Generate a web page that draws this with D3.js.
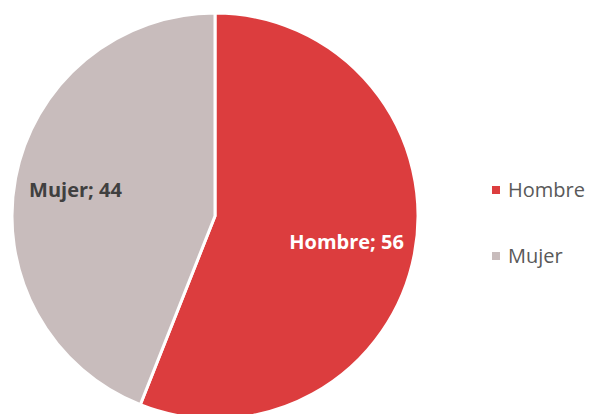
<!doctype html>
<html>
<head>
  <meta charset="utf-8">
  <script src="https://d3js.org/d3.v7.min.js"></script>
  <style>
    body { margin: 0; background: #fff; }
    text { font-family: "Open Sans", "DejaVu Sans", sans-serif; }
  </style>
</head>
<body>
<script>
  var categories = ["Hombre", "Mujer"];
  var values = [56, 44];
  var colors = ["#DC3D3E", "#C8BCBC"];
  var labelColors = ["#ffffff", "#404040"];

  var width = 591, height = 414;
  var r = 203;

  var svg = d3.select("body").append("svg")
      .attr("width", width)
      .attr("height", height);

  var g = svg.append("g")
      .attr("transform", "translate(215,216)");

  var pie = d3.pie().sort(null).value(function (d) { return d; });
  var arc = d3.arc().innerRadius(0).outerRadius(r);
  var labelArc = d3.arc().innerRadius(138).outerRadius(138);

  var arcs = g.selectAll(".arc")
      .data(pie(values))
      .enter().append("g")
      .attr("class", "arc");

  arcs.append("path")
      .attr("d", arc)
      .attr("fill", function (d, i) { return colors[i]; })
      .attr("stroke", "#fff")
      .attr("stroke-width", 3);

  arcs.append("text")
      .attr("transform", function (d) { return "translate(" + labelArc.centroid(d) + ")"; })
      .attr("text-anchor", "middle")
      .attr("dx", -4)
      .attr("dy", "0.35em")
      .attr("font-size", 20)
      .attr("font-weight", "bold")
      .attr("fill", function (d, i) { return labelColors[i]; })
      .text(function (d, i) { return categories[i] + "; " + d.data; });

  // legend
  var legend = svg.selectAll(".legend")
      .data(categories)
      .enter().append("g")
      .attr("class", "legend")
      .attr("transform", function (d, i) { return "translate(492," + (190 + i * 66) + ")"; });

  legend.append("rect")
      .attr("x", 0).attr("y", -4)
      .attr("width", 8).attr("height", 8)
      .attr("fill", function (d, i) { return colors[i]; });

  legend.append("text")
      .attr("x", 16)
      .attr("dy", "0.35em")
      .attr("font-size", 20)
      .attr("fill", "#595959")
      .text(function (d) { return d; });
</script>
</body>
</html>
